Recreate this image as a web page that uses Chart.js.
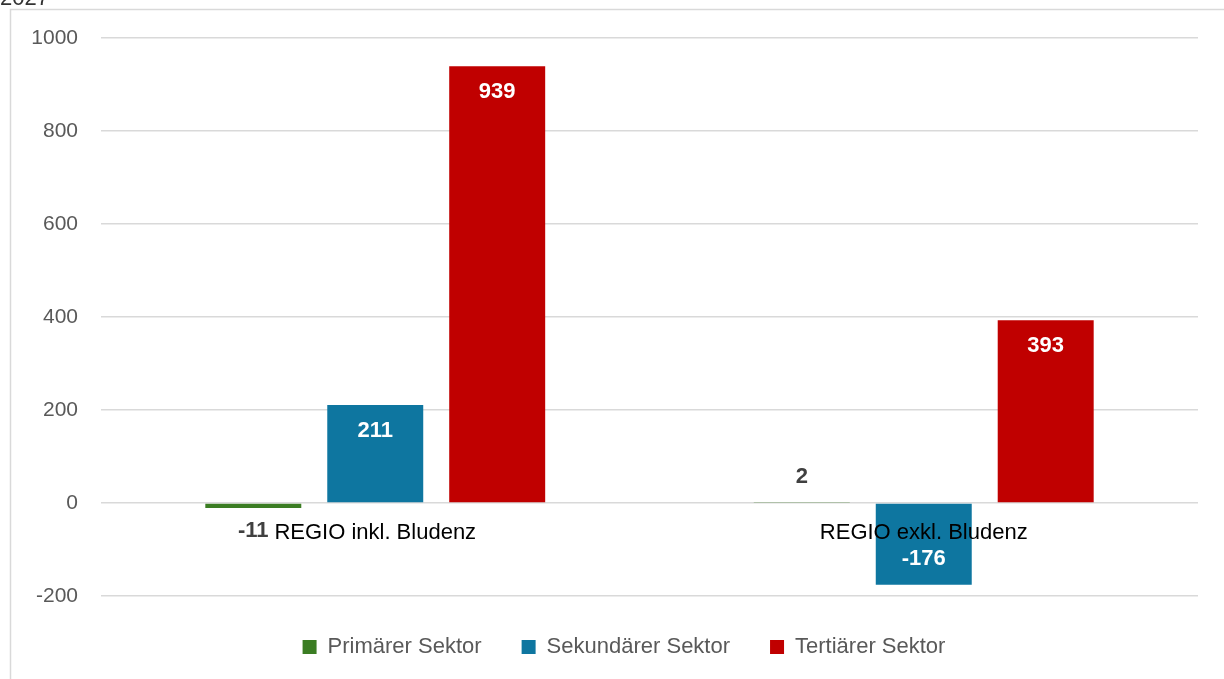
<!DOCTYPE html>
<html><head><meta charset="utf-8">
<script src="https://cdn.jsdelivr.net/npm/chart.js@4/dist/chart.umd.min.js"></script>
<style>html,body{margin:0;padding:0;background:#fff}#wrap{width:1224px;height:679px;position:relative}</style>
</head><body><div id="wrap"><canvas id="c" width="1224" height="679"></canvas></div>
<script>
const categories = ["REGIO inkl. Bludenz", "REGIO exkl. Bludenz"];
const seriesNames = ["Primärer Sektor", "Sekundärer Sektor", "Tertiärer Sektor"];
const primaer = [-11, 2];
const sekundaer = [211, -176];
const tertiaer = [939, 393];
const yTicks = [-200, 0, 200, 400, 600, 800, 1000];
const titleText = "2027";

const colors = ["#3b7d23", "#0e76a0", "#c00000"];
const FONT = "'Liberation Sans', Arial, sans-serif";

const framePlugin = {
  id: 'frame',
  beforeDraw(chart) {
    const ctx = chart.ctx;
    ctx.save();
    ctx.fillStyle = '#fff';
    ctx.fillRect(0, 0, chart.width, chart.height);
    ctx.strokeStyle = '#d9d9d9';
    ctx.lineWidth = 1.5;
    ctx.beginPath();
    ctx.moveTo(10.5, chart.height);
    ctx.lineTo(10.5, 9.5);
    ctx.lineTo(chart.width, 9.5);
    ctx.stroke();
    ctx.fillStyle = '#333';
    ctx.font = "22px " + FONT;
    ctx.textBaseline = 'alphabetic';
    ctx.textAlign = 'left';
    ctx.fillText(titleText, 0, 5);
    ctx.restore();
  }
};

const legendShift = {
  id: 'legendShift',
  afterLayout(chart) {
    if (chart.legend) {
      chart.legend.left += 20;
      chart.legend.right += 20;
    }
  }
};

const labelPlugin = {
  id: 'valueLabels',
  afterDatasetsDraw(chart) {
    const ctx = chart.ctx;
    ctx.save();
    ctx.font = "bold 22px " + FONT;
    ctx.textAlign = 'center';
    ctx.textBaseline = 'middle';
    chart.data.datasets.forEach((ds, di) => {
      const meta = chart.getDatasetMeta(di);
      meta.data.forEach((bar, i) => {
        const v = ds.data[i];
        let y;
        if (di === 0) {
          ctx.fillStyle = '#404040';
          y = v >= 0 ? bar.y - 25 : bar.y + 23;
        } else {
          ctx.fillStyle = '#ffffff';
          y = v >= 0 ? bar.y + 26 : bar.y - 26;
        }
        ctx.fillText(String(v), bar.x, y);
      });
    });
    ctx.restore();
  }
};

new Chart(document.getElementById('c'), {
  type: 'bar',
  data: {
    labels: categories,
    datasets: [
      { label: seriesNames[0], data: primaer, backgroundColor: colors[0] },
      { label: seriesNames[1], data: sekundaer, backgroundColor: colors[1] },
      { label: seriesNames[2], data: tertiaer, backgroundColor: colors[2] }
    ]
  },
  options: {
    responsive: false,
    animation: false,
    maintainAspectRatio: false,
    layout: { padding: { left: 10, right: 26, top: 38, bottom: 11 } },
    datasets: { bar: { categoryPercentage: 0.667, barPercentage: 0.787 } },
    scales: {
      x: {
        position: { y: 0 },
        grid: { display: false, drawTicks: false },
        border: { display: false },
        ticks: { z: 2, color: '#000', font: { family: FONT, size: 22 }, padding: 17 }
      },
      y: {
        min: -200, max: 1000,
        afterBuildTicks(scale) { scale.ticks = yTicks.map(v => ({ value: v })); },
        afterFit(scale) { scale.width = 91; },
        grid: { color: '#d9d9d9', lineWidth: 1.5, drawTicks: false },
        border: { display: false },
        ticks: { color: '#595959', font: { family: FONT, size: 21 }, padding: 23,
                 callback: (v) => String(v) }
      }
    },
    plugins: {
      legend: {
        position: 'bottom',
        labels: {
          color: '#595959',
          font: { family: FONT, size: 22 },
          boxWidth: 14, boxHeight: 14,
          padding: 40
        }
      },
      tooltip: { enabled: false },
      title: { display: false }
    }
  },
  plugins: [framePlugin, legendShift, labelPlugin]
});
</script></body></html>
